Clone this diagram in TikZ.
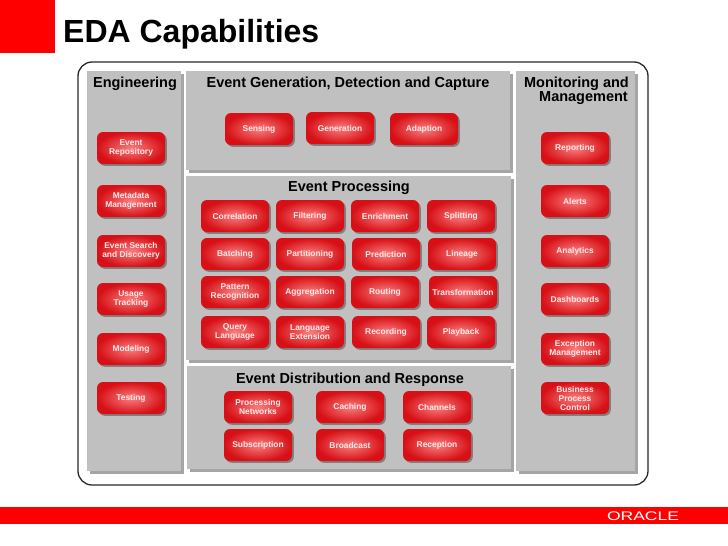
\documentclass[tikz,border=0pt]{standalone}
\usepackage{fontspec}
\setmainfont{Liberation Sans}
\usetikzlibrary{shadows}
\definecolor{oraclered}{RGB}{255,0,0}
\definecolor{panelgray}{RGB}{192,192,192}
\definecolor{panelrim}{RGB}{165,165,165}
\definecolor{btnlight}{RGB}{250,125,125}
\definecolor{btndark}{RGB}{214,16,22}
\definecolor{btntext}{RGB}{255,232,232}
\definecolor{framegray}{RGB}{40,40,40}
\begin{document}
\begin{tikzpicture}[x=1pt,y=-1pt,
	panel/.style={fill=panelgray,drop shadow={shadow xshift=2.5pt,shadow yshift=-2.5pt,fill=panelrim,opacity=1}},
	paneltitle/.style={font=\fontsize{14.5}{15}\selectfont\bfseries,inner sep=0pt},
	btn/.style={rounded corners=6pt,minimum width=68pt,minimum height=32pt,inner sep=1pt,
		inner color=btnlight,outer color=btndark,
		drop shadow={shadow xshift=1.8pt,shadow yshift=-1.8pt,fill=black!70,opacity=.55},
		text=btntext,align=center,font=\fontsize{8.4}{9}\selectfont\bfseries}]
	\useasboundingbox (0,0) rectangle (728,546);
	\fill[oraclered] (0,0) rectangle (55,53);
	\node[anchor=base west,inner sep=0pt,font=\fontsize{32}{32}\selectfont\bfseries] (title) at (63,42) {EDA Capabilities};
	\draw[framegray,line width=1.3pt,rounded corners=14pt] (78,62) rectangle (648,485);

	\fill[panel] (87,71) rectangle (181,471);
	\fill[panel] (186,71) rectangle (510,170);
	\fill[panel] (186,176) rectangle (511,360);
	\fill[panel] (187,366) rectangle (511,469);
	\fill[panel] (516,71) rectangle (635,471);

	\node[paneltitle,anchor=base] (engtitle) at (135,87) {Engineering};
	\node[paneltitle,anchor=base] (gentitle) at (348,87) {Event Generation, Detection and Capture};
	\node[paneltitle,anchor=base] (proctitle) at (349,191) {Event Processing};
	\node[paneltitle,anchor=base] (disttitle) at (350,383) {Event Distribution and Response};
	\node[paneltitle,anchor=base east] (montitle) at (629,87) {Monitoring and};
	\node[paneltitle,anchor=base east] (montitleb) at (628,101) {Management};

	\node[btn] (repo) at (131,148) {Event\\Repository};
	\node[btn] (meta) at (131,201) {Metadata\\Management};
	\node[btn] (search) at (131,251) {Event Search\\and Discovery};
	\node[btn] (usage) at (131,299) {Usage\\Tracking};
	\node[btn] (model) at (131,349) {Modeling};
	\node[btn] (test) at (131,398) {Testing};

	\node[btn] (sense) at (259,129) {Sensing};
	\node[btn] (generate) at (340,128) {Generation};
	\node[btn] (adapt) at (424,129) {Adaption};

	\node[btn] (correl) at (235,216) {Correlation};
	\node[btn] (filter) at (310,216) {Filtering};
	\node[btn] (enrich) at (385,216) {Enrichment};
	\node[btn] (split) at (461,216) {Splitting};
	\node[btn] (batch) at (235,254) {Batching};
	\node[btn] (partit) at (310,254) {Partitioning};
	\node[btn] (predict) at (386,254) {Prediction};
	\node[btn] (lineage) at (462,254) {Lineage};
	\node[btn] (pattern) at (235,292) {Pattern\\Recognition};
	\node[btn] (aggreg) at (310,292) {Aggregation};
	\node[btn] (route) at (385,292) {Routing};
	\node[btn] (transf) at (463,292) {Transformation};
	\node[btn] (query) at (235,332) {Query\\Language};
	\node[btn] (langext) at (310,332) {Language\\Extension};
	\node[btn] (record) at (386,332) {Recording};
	\node[btn] (playback) at (461,332) {Playback};

	\node[btn] (procnet) at (258,407) {Processing\\Networks};
	\node[btn] (caching) at (350,407) {Caching};
	\node[btn] (channels) at (437,407) {Channels};
	\node[btn] (subscr) at (258,445) {Subscription};
	\node[btn] (broadcast) at (350,445) {Broadcast};
	\node[btn] (recept) at (437,445) {Reception};

	\node[btn] (report) at (575,148) {Reporting};
	\node[btn] (alerts) at (575,201) {Alerts};
	\node[btn] (analytics) at (575,251) {Analytics};
	\node[btn] (dashb) at (575,299) {Dashboards};
	\node[btn] (except) at (575,349) {Exception\\Management};
	\node[btn] (bpc) at (575,398) {Business\\Process\\Control};

	\fill[oraclered] (0,507) rectangle (728,524);
	\node[text=white,inner sep=0pt,font=\fontsize{12.5}{12}\selectfont] (logo) at (643,516.5) {\scalebox{1.4}[1]{ORACLE}};
\end{tikzpicture}
\end{document}
